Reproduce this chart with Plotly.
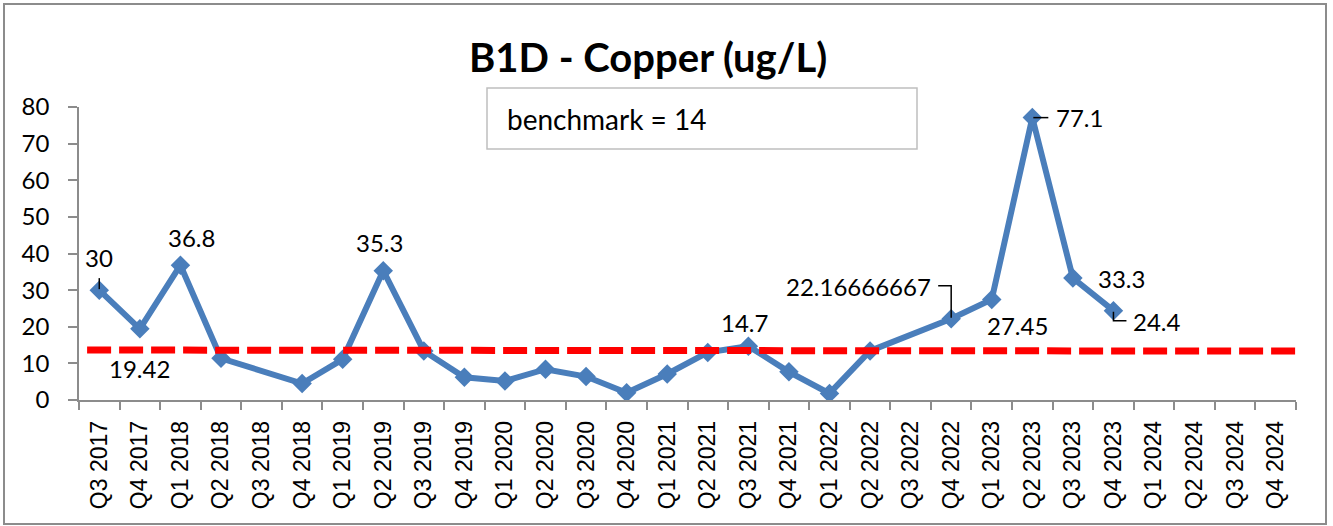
import plotly.graph_objects as go

CATEGORIES = ["Q3 2017", "Q4 2017", "Q1 2018", "Q2 2018", "Q3 2018", "Q4 2018",
              "Q1 2019", "Q2 2019", "Q3 2019", "Q4 2019", "Q1 2020", "Q2 2020",
              "Q3 2020", "Q4 2020", "Q1 2021", "Q2 2021", "Q3 2021", "Q4 2021",
              "Q1 2022", "Q2 2022", "Q3 2022", "Q4 2022", "Q1 2023", "Q2 2023",
              "Q3 2023", "Q4 2023", "Q1 2024", "Q2 2024", "Q3 2024", "Q4 2024"]
COPPER = [30, 19.42, 36.8, 11.4, None, 4.5,
          11.1, 35.3, 13.4, 6.2, 5.2, 8.4,
          6.4, 2.0, 7.1, 13.0, 14.7, 7.7,
          1.8, 13.4, None, 22.16666667, 27.45, 77.1,
          33.3, 24.4, None, None, None, None]
BENCHMARK = 14
BENCHMARK_LINE_Y = [13.64, 13.36]
LABELED_CATS = ["Q3 2017", "Q4 2017", "Q1 2018", "Q2 2019", "Q3 2021",
                "Q4 2022", "Q1 2023", "Q2 2023", "Q3 2023", "Q4 2023"]
LABEL_TEXTS = ["30", "19.42", "36.8", "35.3", "14.7",
               "22.16666667", "27.45", "77.1", "33.3", "24.4"]
TITLE = "B1D - Copper (ug/L)"

# layout constants (pixels)
W, H = 1333, 526
PL, PR, PT, PB = 79, 1296, 107, 400
# label offsets (dx, dy up) in pixels from the point
OFFSETS = [(0, 33), (0, -40), (11, 28), (-4, 28), (-4, 24),
           (-93, 32), (26, -26), (47, 0), (49, 0), (44, -11)]
# leader paths (pixel coords relative to point, y up)
LEADERS = {"Q3 2017": "M 0,1 L 0,12",
           "Q4 2022": "M -13,33 L 0,33 L 0,1",
           "Q2 2023": "M 1,0 L 16,0",
           "Q4 2023": "M 0,-1 L 0,-10 L 13,-10"}

pw, ph = PR - PL, PB - PT
def px(x):
    return (x - PL) / pw
def py(y):
    return (PB - y) / ph

LINE_BLUE = "#4A7EBB"
AXIS_GRAY = "#8C8C8C"

fig = go.Figure()
fig.add_trace(go.Scatter(
    x=CATEGORIES, y=COPPER, mode="lines+markers", connectgaps=True,
    line=dict(color=LINE_BLUE, width=6),
    marker=dict(symbol="diamond", size=15, color=LINE_BLUE),
    hoverinfo="x+y", showlegend=False))

annotations = []
for cat, txt, (dx, dy) in zip(LABELED_CATS, LABEL_TEXTS, OFFSETS):
    val = COPPER[CATEGORIES.index(cat)]
    annotations.append(dict(x=cat, y=val, xref="x", yref="y", text=txt,
                            showarrow=False, xshift=dx, yshift=dy,
                            font=dict(family="Lato", size=24, color="#000000")))

annotations.append(dict(x=px(648), y=py(57), xref="paper", yref="paper",
                        text="<b>" + TITLE + "</b>", showarrow=False,
                        xanchor="center", yanchor="middle",
                        font=dict(family="Lato", size=40, color="#000000")))
annotations.append(dict(x=px(505), y=py(119), xref="paper", yref="paper",
                        text="benchmark = " + str(BENCHMARK), showarrow=False,
                        xanchor="left", yanchor="middle",
                        font=dict(family="Lato", size=28, color="#000000")))

shapes = []
# benchmark line
shapes.append(dict(type="line", xref="x", yref="y", x0=-0.3, x1=29.5,
                   y0=BENCHMARK_LINE_Y[0], y1=BENCHMARK_LINE_Y[1],
                   line=dict(color="#FF0000", width=7, dash="24px,8px"),
                   layer="above"))
# leader lines
for cat, path in LEADERS.items():
    idx = CATEGORIES.index(cat)
    shapes.append(dict(type="path", xref="x", yref="y",
                       xsizemode="pixel", ysizemode="pixel",
                       xanchor=idx, yanchor=COPPER[idx], path=path,
                       line=dict(color="#000000", width=1.5), layer="above"))
# benchmark text box
shapes.append(dict(type="rect", xref="paper", yref="paper",
                   x0=px(487), x1=px(917), y0=py(149), y1=py(88),
                   line=dict(color="#BFBFBF", width=1.5), fillcolor="rgba(0,0,0,0)"))
# outer chart border
shapes.append(dict(type="rect", xref="paper", yref="paper",
                   x0=px(4), x1=px(1326), y0=py(524), y1=py(4),
                   line=dict(color=AXIS_GRAY, width=2), fillcolor="rgba(0,0,0,0)"))

fig.update_layout(
    width=W, height=H,
    margin=dict(l=PL, r=W - PR, t=PT, b=H - PB, pad=0),
    paper_bgcolor="white", plot_bgcolor="white",
    showlegend=False,
    annotations=annotations, shapes=shapes,
    xaxis=dict(type="category", categoryorder="array", categoryarray=CATEGORIES,
               range=[-0.5, len(CATEGORIES) - 0.5],
               showgrid=False, zeroline=False,
               showline=True, linecolor=AXIS_GRAY, linewidth=1.5,
               ticks="outside", tickson="boundaries", ticklen=8,
               tickcolor=AXIS_GRAY, tickwidth=1.5,
               tickangle=-90, ticklabelstandoff=10,
               tickfont=dict(family="Liberation Sans", size=23, color="#000000")),
    yaxis=dict(range=[0, 80], dtick=10, tick0=0,
               showgrid=False, zeroline=False,
               showline=True, linecolor=AXIS_GRAY, linewidth=1.5,
               ticks="outside", ticklen=9, tickcolor=AXIS_GRAY, tickwidth=1.5,
               ticklabelstandoff=14,
               tickfont=dict(family="Lato", size=24, color="#000000")),
)

fig.write_html("out.html", config={"displayModeBar": False},
               post_script="document.body.style.margin='0';document.body.style.padding='0';")
